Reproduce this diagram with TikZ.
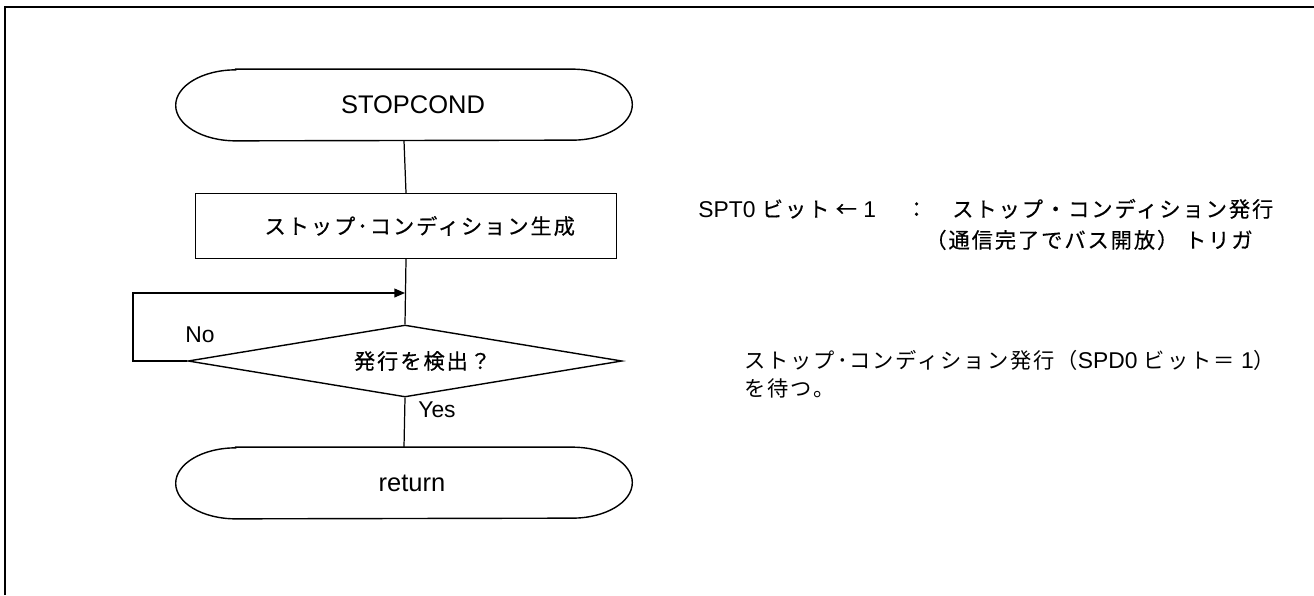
\documentclass[tikz,border=0pt]{standalone}
\usepackage{fontspec}
\setmainfont{Liberation Sans}
\newfontfamily\jp{Noto Sans CJK JP}[Scale=1.1,LetterSpace=9,FakeBold=0.4]
\newfontfamily\jpm{Noto Sans CJK JP}[Scale=1.1,LetterSpace=9]
\usepackage{tikz}
\usetikzlibrary{calc,shapes.geometric,arrows.meta}
\def\termnode(#1)(#2)#3{\node[termtext] (#1) at (#2) {#3};
	\draw[shapeline] ($(#1.north west)+(1.2cm,0)$) -- ($(#1.north east)+(-1.2cm,0)$) arc (90:-90:1.2cm and 0.71cm) -- ($(#1.south west)+(1.2cm,0)$) arc (270:90:1.2cm and 0.71cm) -- cycle;}
\tikzset{
	shapeline/.style={line width=0.8pt},
	conn/.style={line width=0.7pt},
	termtext/.style={font=\fontsize{14.5}{17}\selectfont, minimum width=9.12cm, minimum height=1.42cm, inner sep=0pt},
	procbox/.style={draw, line width=0.8pt, minimum width=8.42cm, minimum height=1.3cm, inner sep=0pt},
	decide/.style={draw, diamond, aspect=6, line width=0.8pt, minimum width=8.68cm, minimum height=1.44cm, inner sep=0pt},
	lbl/.style={font=\fontsize{13}{15}\selectfont, inner sep=0pt},
	note/.style={font=\fontsize{13}{15}\selectfont, inner sep=0pt, anchor=base west},
}

\begin{document}
\begin{tikzpicture}[x=0.02cm, y=-0.02cm, font=\fontsize{11}{13}\selectfont]
			%%%%% START %%%%%
			
			\useasboundingbox (0, 0) rectangle (1314, 595);
			\draw[line width=1.2pt] (5, 595) -- (5, 7) -- (1314, 7);
			
			\termnode(start)(404, 105){\hspace*{0.36cm}STOPCOND}
			\node[procbox] (gen) at (406, 226) {\hspace*{0.55cm}{\jp ストップ･コンディション生成}};
			\node[decide] (chk) at (405, 361) {\hspace*{0.7cm}{\jp 発行を検出？}};
			\termnode(stop)(404, 483){\hspace*{0.32cm}return}
			
			\coordinate (join) at (405, 293);
			\draw[conn] (start.south) -- (gen.north);
			\draw[conn] (gen.south) -- (chk.north);
			\draw[conn] (chk.south) -- (stop.north);
			\draw[conn, -{Triangle[length=6pt, width=5pt]}] (chk.west) -- (133, 361) -- (133, 293) -- (join);
			
			\node[lbl] (no) at (200, 335) {No};
			\node[lbl] (yes) at (437, 410) {Yes};
			
			% the notes are 13pt, so scale the Japanese back to the same pitch
			\node[note] (cmtA) at (698, 217) {SPT0 {\jp\fontsize{11}{13}\selectfont ビット} {\jp\fontsize{11}{13}\selectfont ←} 1\hspace{17pt}{\jp\fontsize{11}{13}\selectfont ：　ストップ・コンディション発行}};
			\node[note] (cmtB) at (925, 248) {{\jp\fontsize{11}{13}\selectfont （通信完了でバス開放） トリガ}};
			
			\node[note] (cmtC) at (744, 368) {{\jpm\fontsize{11}{13}\selectfont ストップ･コンディション発行（}SPD0 {\jpm\fontsize{11}{13}\selectfont ビット＝} 1{\jpm\fontsize{11}{13}\selectfont ）}};
			\node[note] (cmtD) at (744, 396) {{\jpm\fontsize{11}{13}\selectfont を待つ。}};
			
			%%%%% END %%%%%
\end{tikzpicture}
\end{document}
